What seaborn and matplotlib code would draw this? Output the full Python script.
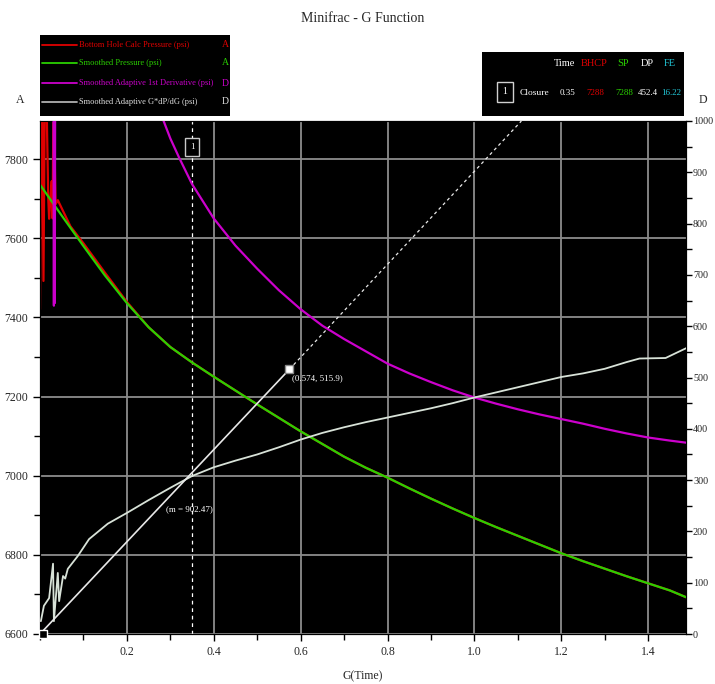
import numpy as np
import matplotlib
matplotlib.use("Agg")
import matplotlib.pyplot as plt
from matplotlib.ticker import MultipleLocator, FixedLocator
import seaborn as sns

sns.set_style("ticks")
plt.rcParams['font.family'] = ['Liberation Serif', 'DejaVu Sans']

# ---------------- data ----------------
sp_g = [0.00, 0.05, 0.10, 0.15, 0.20, 0.25, 0.30, 0.35, 0.40, 0.45, 0.50, 0.55,
        0.60, 0.65, 0.70, 0.75, 0.80, 0.85, 0.90, 0.95, 1.00, 1.05, 1.10, 1.15,
        1.20, 1.25, 1.30, 1.35, 1.40, 1.45, 1.487]
sp_p = [7735, 7657, 7580, 7505, 7436, 7375, 7325, 7286, 7250, 7215, 7180, 7146,
        7112, 7080, 7048, 7020, 6995, 6968, 6942, 6917, 6893, 6870, 6848, 6826,
        6804, 6784, 6765, 6746, 6728, 6710, 6693]

bhcp_g_early = [0.000, 0.003, 0.005, 0.008, 0.011, 0.015, 0.019, 0.021, 0.024, 0.027,
                0.029, 0.031, 0.036, 0.041, 0.07, 0.10, 0.15, 0.20]
bhcp_p_early = [7420, 7950, 7950, 7492, 7950, 7950, 7700, 7649, 7700, 7744,
                7650, 7950, 7686, 7696, 7630, 7587, 7512, 7439]

deriv_g = [0.031, 0.032, 0.033, 0.034, 0.035, 0.28, 0.30, 0.32, 0.35, 0.40, 0.45,
           0.50, 0.55, 0.60, 0.65, 0.70, 0.75, 0.80, 0.85, 0.90, 0.95, 1.00, 1.05,
           1.10, 1.15, 1.20, 1.25, 1.30, 1.35, 1.40, 1.45, 1.487]
deriv_d = [1100, 640, 1100, 645, 1100, 1010, 966, 929, 877, 810, 757,
           712, 670, 633, 601, 575, 551, 527, 508, 491, 475, 461, 449,
           438, 428, 419, 410, 400, 391, 383, 377, 373]

gdp_g = [0.002, 0.009, 0.021, 0.030, 0.032, 0.041, 0.044, 0.053, 0.058, 0.064, 0.087,
         0.113, 0.156, 0.20, 0.25, 0.30, 0.35, 0.40, 0.45, 0.50, 0.55, 0.60, 0.65,
         0.70, 0.75, 0.80, 0.85, 0.90, 0.95, 1.00, 1.05, 1.10, 1.15, 1.20, 1.25,
         1.30, 1.35, 1.38, 1.44, 1.487]
gdp_d = [25, 55, 70, 137, 25, 119, 64, 113, 108, 127, 152,
         185, 215, 236, 261, 285, 308, 325, 338, 350, 364, 379, 392,
         403, 413, 422, 431, 440, 450, 461, 471, 481, 491, 501, 508,
         517, 530, 537, 538, 557]

closure_g = 0.35
tangent_slope = 902.47
tangent_end = (0.574, 515.9)

legend_labels = ["Bottom Hole Calc Pressure (psi)", "Smoothed Pressure (psi)",
                 "Smoothed Adaptive 1st Derivative (psi)", "Smoothed Adaptive G*dP/dG (psi)"]
legend_axes = ["A", "A", "D", "D"]
table_headers = ["Time", "BHCP", "SP", "DP", "FE"]
table_values = ["0.35", "7288", "7288", "452.4", "16.22"]

left_ticks = [6600, 6800, 7000, 7200, 7400, 7600, 7800]
right_ticks = [0, 100, 200, 300, 400, 500, 600, 700, 800, 900, 1000]
x_ticks = [0.2, 0.4, 0.6, 0.8, 1.0, 1.2, 1.4]

RED = "#e00000"
GREEN = "#2ad000"
MAG = "#cc00cc"
WHT = "#d8e2d8"
CYAN = "#22c8d8"

# ---------------- figure ----------------
W, H = 715, 684
fig = plt.figure(figsize=(W / 100, H / 100), dpi=100)
fig.patch.set_facecolor("white")

def fx(px):
    return px / W

def fy(py):
    return 1 - py / H

ax = fig.add_axes([fx(40), fy(634), (686 - 40) / W, (634 - 121) / H])
ax.set_facecolor("black")
ax2 = ax.twinx()

ax.set_xlim(0, 1.487)
ax.set_ylim(6600, 7896)
ax2.set_ylim(0, 1000)

ax.xaxis.set_major_locator(FixedLocator(x_ticks))
ax.xaxis.set_minor_locator(MultipleLocator(0.1))
ax.yaxis.set_major_locator(FixedLocator(left_ticks))
ax.yaxis.set_minor_locator(MultipleLocator(100))
ax2.yaxis.set_major_locator(FixedLocator(right_ticks))
ax2.yaxis.set_minor_locator(MultipleLocator(50))

ax.grid(True, which="major", color="#8c8c8c", lw=1.3)
ax.set_axisbelow(True)

for a in (ax, ax2):
    a.tick_params(which="both", direction="out", color="black", labelsize=8.5)
    a.tick_params(which="major", length=5, width=1)
    a.tick_params(which="minor", length=4, width=1)
    for s in a.spines.values():
        s.set_color("black")
ax2.tick_params(axis="y", which="major", labelsize=7.3, pad=1, length=4)

ax.set_xticklabels([f"{v:.1f}" for v in x_ticks])
ax.set_yticklabels([str(v) for v in left_ticks])
ax2.set_yticklabels([str(v) for v in right_ticks])
ax.set_xlabel("G(Time)", fontsize=8.5, labelpad=9)
ax.set_ylabel("")
ax2.set_ylabel("")

# closure line
ax.axvline(closure_g, color="white", lw=0.9, ls=(0, (3, 3)), zorder=2)

# series
bhcp_g = bhcp_g_early + sp_g[5:]
bhcp_p = bhcp_p_early + sp_p[5:]
sns.lineplot(x=bhcp_g, y=bhcp_p, ax=ax, color=RED, lw=1.6, estimator=None, sort=False, zorder=3)
sns.lineplot(x=sp_g, y=sp_p, ax=ax, color=GREEN, lw=1.6, estimator=None, sort=False, zorder=4)

sns.lineplot(x=deriv_g, y=deriv_d, ax=ax2, color=MAG, lw=1.6, estimator=None, sort=False, zorder=3)
sns.lineplot(x=gdp_g, y=gdp_d, ax=ax2, color=WHT, lw=1.3, estimator=None, sort=False, zorder=3)

# tangent line
top_g = 1000 / tangent_slope
ax2.plot([0, tangent_end[0]], [0, tangent_end[1]], color="#e8e8e8", lw=1.2, zorder=4)
ax2.plot([tangent_end[0], top_g], [tangent_end[1], 1000], color="#e8e8e8", lw=0.9,
         ls=(0, (2.5, 2.5)), zorder=4)
ax2.plot([tangent_end[0]], [tangent_end[1]], marker="s", ms=6, mfc="white",
         mec="#888888", zorder=5)
ax2.plot([0.006], [0], marker="s", ms=6, mfc="black", mec="white", zorder=6, clip_on=False)
ax2.text(tangent_end[0] + 0.006, tangent_end[1] - 18, f"({tangent_end[0]}, {tangent_end[1]})",
         color="white", fontsize=6.5, ha="left", va="center", zorder=6)
ax2.text(0.29, 244, f"(m = {tangent_slope})", color="white", fontsize=6.5,
         ha="left", va="center", zorder=6)
ax2.text(closure_g, 950, "1", color="white", fontsize=6.5, ha="center", va="center",
         zorder=6, bbox=dict(facecolor="black", edgecolor="#c8c8c8", lw=1,
                             boxstyle="square,pad=0.55"))

# title and axis letters
fig.text(0.5 * (40 + 686) / W, fy(18), "Minifrac - G Function", ha="center", va="center",
         fontsize=10)
fig.text(fx(20), fy(100), "A", ha="center", va="center", fontsize=8.5)
fig.text(fx(703), fy(100), "D", ha="center", va="center", fontsize=8.5)

# legend box
lg = fig.add_axes([fx(40), fy(116), (230 - 40) / W, (116 - 35) / H])
lg.set_facecolor("black")
lg.set_xlim(0, 190)
lg.set_ylim(81, 0)
lg.set_xticks([])
lg.set_yticks([])
for s in lg.spines.values():
    s.set_visible(False)
row_y = [10, 28, 48, 67]
row_colors = [RED, GREEN, MAG, "#e0e0e0"]
for yv, lab, letter, c in zip(row_y, legend_labels, legend_axes, row_colors):
    lg.plot([2, 37], [yv, yv], color=("#b0b0b0" if c == "#e0e0e0" else c), lw=1.3)
    lg.text(39, yv, lab, color=c, fontsize=6.0, ha="left", va="center")
    lg.text(185, yv, letter, color=c, fontsize=7, ha="center", va="center")

# info table
tb = fig.add_axes([fx(482), fy(116), (684 - 482) / W, (116 - 52) / H])
tb.set_facecolor("black")
tb.set_xlim(482, 684)
tb.set_ylim(116, 52)
tb.set_xticks([])
tb.set_yticks([])
for s in tb.spines.values():
    s.set_visible(False)
hdr_x = [565, 594, 623, 647, 670]
hdr_c = ["white", RED, GREEN, "white", CYAN]
for xv, t, c in zip(hdr_x, table_headers, hdr_c):
    tb.text(xv, 64, t, color=c, fontsize=7.5, ha="center", va="center")
val_x = [567, 595, 624, 648, 671]
for xv, t, c in zip(val_x, table_values, hdr_c):
    tb.text(xv, 93, t, color=c, fontsize=6.5, ha="center", va="center")
tb.text(505, 92, "1", color="white", fontsize=7, ha="center", va="center",
        bbox=dict(facecolor="black", edgecolor="#d0d0d0", lw=1, boxstyle="square,pad=0.6"))
tb.text(535, 93, "Closure", color="white", fontsize=6.8, ha="center", va="center")

fig.savefig("out.png", dpi=100, facecolor="white")
